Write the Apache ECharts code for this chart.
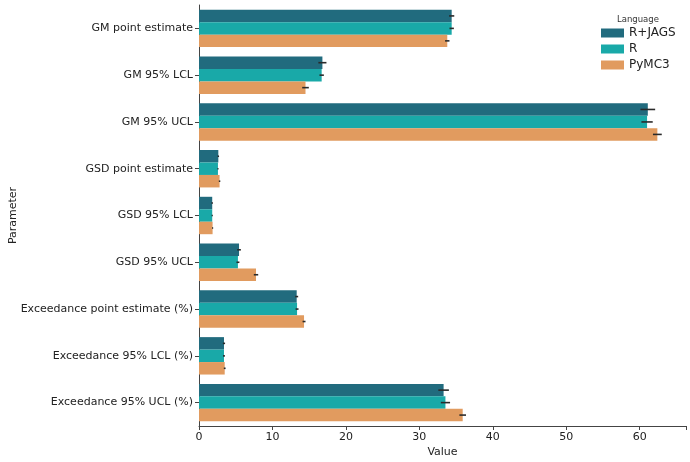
<!DOCTYPE html>
<html><head><meta charset="utf-8">
<script src="https://cdn.jsdelivr.net/npm/echarts@6/dist/echarts.min.js"></script>
<style>html,body{margin:0;padding:0;background:#fff}#c{width:690px;height:462px}</style>
</head><body><div id="c"></div>
<script>
const categories = ["GM point estimate","GM 95% LCL","GM 95% UCL","GSD point estimate","GSD 95% LCL","GSD 95% UCL","Exceedance point estimate (%)","Exceedance 95% LCL (%)","Exceedance 95% UCL (%)"];
const seriesNames = ["R+JAGS","R","PyMC3"];
const rjags = [34.4,16.8,61.1,2.63,1.8,5.45,13.3,3.4,33.3];
const rOnly = [34.4,16.7,61.0,2.58,1.8,5.3,13.35,3.4,33.55];
const pymc3 = [33.8,14.5,62.4,2.8,1.85,7.76,14.3,3.5,35.9];
const rjagsErr = [0.35,0.55,1.0,0.1,0.1,0.25,0.2,0.15,0.72];
const rOnlyErr = [0.3,0.3,0.77,0.08,0.08,0.2,0.2,0.12,0.63];
const pymc3Err = [0.3,0.45,0.6,0.1,0.08,0.3,0.2,0.12,0.45];
const xTicks = [0,10,20,30,40,50,60];

const colors = ["#216b7e","#19a9a8","#e19b5f"];
const values = [rjags,rOnly,pymc3];
const errs = [rjagsErr,rOnlyErr,pymc3Err];

const chart = echarts.init(document.getElementById('c'));
const series = [];
values.forEach((v,i)=>{
  series.push({name:seriesNames[i],type:'bar',data:v,barGap:'0%',barCategoryGap:'20%',
    itemStyle:{color:colors[i]},z:2});
});
values.forEach((v,i)=>{
  series.push({type:'custom',silent:true,z:5,
    data:v.map((val,k)=>[k,val-errs[i][k],val+errs[i][k]]),
    renderItem:(params,api)=>{
      const k=api.value(0);
      const p1=api.coord([api.value(1),k]);
      const p2=api.coord([api.value(2),k]);
      const band=api.size([0,1])[1];
      const bw=band*0.8/3;
      const off=(i-1)*bw;
      return {type:'line',shape:{x1:p1[0],y1:p1[1]+off,x2:p2[0],y2:p2[1]+off},
        style:{stroke:'#2a2a2a',lineWidth:1.6}};
    },
    encode:{x:[1,2],y:0}
  });
});
chart.setOption({
  animation:false,
  textStyle:{fontFamily:'DejaVu Sans'},
  title:{text:'Language',left:612,top:10,textStyle:{fontSize:8.5,fontWeight:'normal',color:'#333',fontFamily:'DejaVu Sans'}},
  legend:{data:seriesNames,orient:'vertical',left:596,top:22,itemWidth:23,itemHeight:9,itemGap:4,
    icon:'rect',textStyle:{fontSize:12,color:'#222',fontFamily:'DejaVu Sans'}},
  grid:{left:199,right:4,top:5,bottom:36,containLabel:false,outerBoundsMode:'none'},
  xAxis:{type:'value',min:0,max:66.3,interval:10,
    name:'Value',nameLocation:'middle',nameGap:21,nameMoveOverlap:false,nameTextStyle:{fontSize:11,color:'#222'},
    axisLine:{show:true,lineStyle:{color:'#444',width:1}},
    axisTick:{show:true,length:4,lineStyle:{color:'#444'}},
    axisLabel:{fontSize:11,color:'#222',margin:6,
      formatter:v=>xTicks.includes(v)?String(v):''},
    splitLine:{show:false}},
  yAxis:{type:'category',data:categories,inverse:true,
    name:'Parameter',nameLocation:'middle',nameGap:180,nameRotate:90,nameMoveOverlap:false,nameTextStyle:{fontSize:11,color:'#222'},
    axisLine:{show:true,lineStyle:{color:'#444',width:1}},
    axisTick:{show:true,length:4,alignWithLabel:true,lineStyle:{color:'#444'}},
    axisLabel:{fontSize:11,color:'#222',margin:6}},
  series:series
});
</script></body></html>
